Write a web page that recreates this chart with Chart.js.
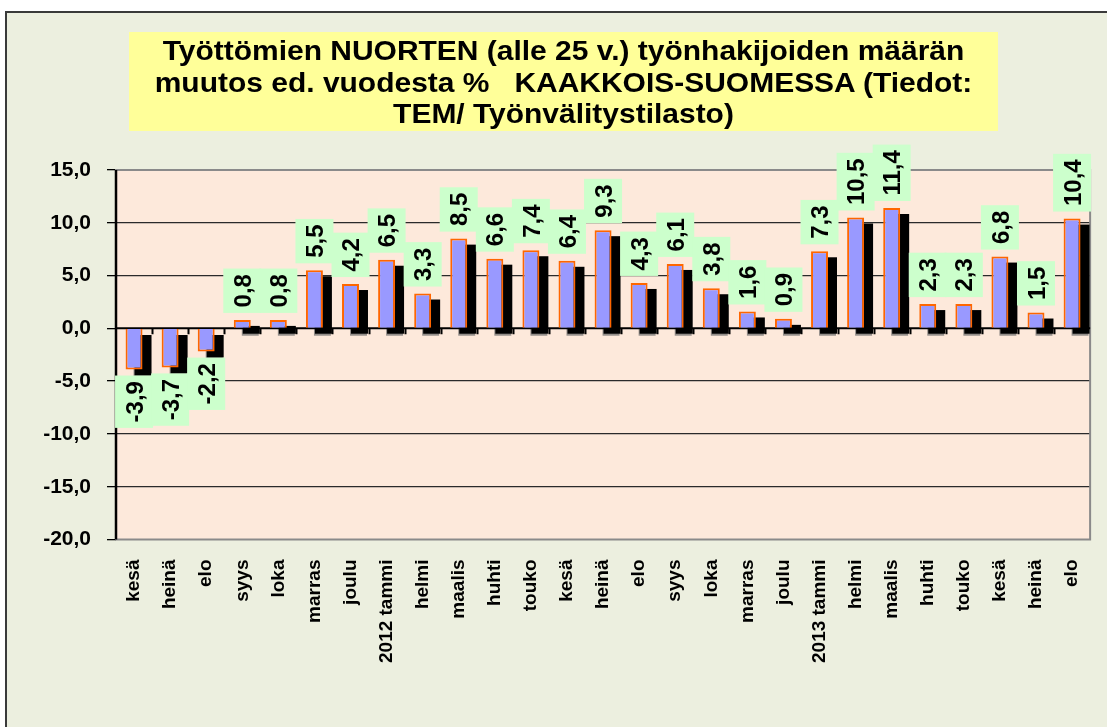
<!DOCTYPE html>
<html>
<head>
<meta charset="utf-8">
<script src="https://cdn.jsdelivr.net/npm/chart.js@4.4.1/dist/chart.umd.min.js"></script>
<style>
  html, body { margin: 0; padding: 0; background: #fff; overflow: hidden; }
  #frame {
    position: absolute; left: 5px; top: 11px; width: 1130px; height: 740px;
    border: 2px solid #3a3a3a; background: #ECEFDF;
  }
  #title {
    position: absolute; left: 129px; top: 32px; width: 869px; height: 99px;
    background: #FFFF99; text-align: center;
    padding-top: 4px; box-sizing: border-box; color: #000;
  }
  #title div {
    white-space: pre; font: bold 27px "Liberation Sans", Arial, sans-serif;
    line-height: 31.5px; transform: scaleX(1.11); transform-origin: 50% 50%;
  }
  #wrap { position: absolute; left: 0; top: 0; width: 1107px; height: 727px; }
</style>
</head>
<body>
<div id="frame"></div>
<div id="wrap"><canvas id="chart" width="1107" height="727"></canvas></div>
<div id="title"><div>Työttömien NUORTEN (alle 25 v.) työnhakijoiden määrän
muutos ed. vuodesta %   KAAKKOIS-SUOMESSA (Tiedot:
TEM/ Työnvälitystilasto)</div></div>
<script>
// months jul 2011 -> aug 2013 (kesä = first one)
const months = ["kesä", "heinä", "elo", "syys", "loka", "marras", "joulu", "2012 tammi",
  "helmi", "maalis", "huhti", "touko", "kesä", "heinä", "elo", "syys", "loka", "marras",
  "joulu", "2013 tammi", "helmi", "maalis", "huhti", "touko", "kesä", "heinä", "elo"];
const changePct = [-3.9, -3.7, -2.2, 0.8, 0.8, 5.5, 4.2, 6.5, 3.3, 8.5, 6.6, 7.4, 6.4, 9.3,
  4.3, 6.1, 3.8, 1.6, 0.9, 7.3, 10.5, 11.4, 2.3, 2.3, 6.8, 1.5, 10.4];
const yTicks = [-20, -15, -10, -5, 0, 5, 10, 15];

const FONT = '"Liberation Sans", Arial, sans-serif';
const fmt = v => v.toFixed(1).replace(".", ",");

// plot area background + excel-ish 3D shadow under bars
const plotDeco = {
  id: "plotDeco",
  beforeDraw(chart) {
    const { ctx, chartArea: a } = chart;
    ctx.save();
    ctx.fillStyle = "#FDE9DB";
    ctx.fillRect(a.left, a.top, a.right - a.left, a.bottom - a.top);
    ctx.restore();
  },
  beforeDatasetsDraw(chart) {
    const { ctx, chartArea: a, scales } = chart;
    ctx.save();
    // plot border
    ctx.strokeStyle = "#8a8a8a";
    ctx.lineWidth = 2;
    ctx.strokeRect(a.left, a.top, a.right - a.left, a.bottom - a.top);
    // shadows
    const meta = chart.getDatasetMeta(0);
    meta.data.forEach(el => {
      const l = el.x - el.width / 2;
      const top = Math.min(el.y, el.base);
      const h = Math.abs(el.base - el.y);
      ctx.fillStyle = "rgba(110,110,110,0.75)";
      ctx.fillRect(l + 8, top + 8, el.width, h);
      ctx.fillStyle = "#000";
      ctx.fillRect(l + 9, top + 6, el.width, h);
    });
    // zero line with small category ticks
    const y0 = scales.y.getPixelForValue(0);
    ctx.strokeStyle = "#000";
    ctx.lineWidth = 2;
    ctx.beginPath();
    ctx.moveTo(a.left, y0);
    ctx.lineTo(a.right, y0);
    const step = (a.right - a.left) / months.length;
    for (let i = 1; i < months.length; i++) {
      const x = Math.round(a.left + i * step) + 0.5;
      ctx.moveTo(x, y0);
      ctx.lineTo(x, y0 + 6);
    }
    ctx.stroke();
    // y axis line
    ctx.lineWidth = 2.5;
    ctx.beginPath();
    ctx.moveTo(a.left, a.top);
    ctx.lineTo(a.left, a.bottom);
    ctx.stroke();
    ctx.restore();
  },
  afterDatasetsDraw(chart) {
    const { ctx } = chart;
    const meta = chart.getDatasetMeta(0);
    ctx.save();
    ctx.font = "bold 24px " + FONT;
    meta.data.forEach((el, i) => {
      const v = changePct[i];
      const txt = fmt(v);
      const tw = ctx.measureText(txt).width;
      const bw = 38, bh = tw + 11;
      const bx = el.x - bw / 2;
      const by = v >= 0 ? el.y - 7 - bh : el.y + 6;
      ctx.fillStyle = "#CCFFCC";
      ctx.fillRect(bx, by, bw, bh);
      ctx.save();
      ctx.translate(el.x + 2, by + bh / 2);
      ctx.rotate(-Math.PI / 2);
      ctx.fillStyle = "#000";
      ctx.textAlign = "center";
      ctx.textBaseline = "middle";
      ctx.fillText(txt, 0, 0);
      ctx.restore();
    });
    ctx.restore();
  }
};

new Chart(document.getElementById("chart"), {
  type: "bar",
  data: {
    labels: months,
    datasets: [{
      data: changePct,
      backgroundColor: "#9999FF",
      borderColor: "#FF6600",
      borderWidth: 2,
      barPercentage: 0.47,
      categoryPercentage: 1
    }]
  },
  options: {
    responsive: false,
    animation: false,
    devicePixelRatio: 1,
    layout: { padding: { top: 170, right: 7, left: 0, bottom: 0 } },
    plugins: { legend: { display: false }, tooltip: { enabled: false } },
    scales: {
      x: {
        grid: { display: false },
        border: { display: false },
        ticks: {
          autoSkip: false, maxRotation: 90, minRotation: 90, padding: 12,
          color: "#000", font: { family: FONT, size: 19, weight: "bold" }
        },
        afterFit(s) { s.height = 187.5; }
      },
      y: {
        min: yTicks[0], max: yTicks[yTicks.length - 1],
        afterBuildTicks(s) { s.ticks = yTicks.map(v => ({ value: v })); },
        border: { display: false },
        grid: {
          color: c => (c.tick && (c.tick.value === yTicks[0] || c.tick.value === yTicks[yTicks.length - 1] || c.tick.value === 0)) ? "rgba(0,0,0,0)" : "#2a2a2a",
          lineWidth: 1.3,
          tickColor: "#000",
          tickLength: 9
        },
        ticks: {
          padding: 16, color: "#000",
          font: { family: FONT, size: 21, weight: "bold" },
          callback: v => fmt(v)
        },
        afterFit(s) { s.width = 116; }
      }
    }
  },
  plugins: [plotDeco]
});
</script>
</body>
</html>
